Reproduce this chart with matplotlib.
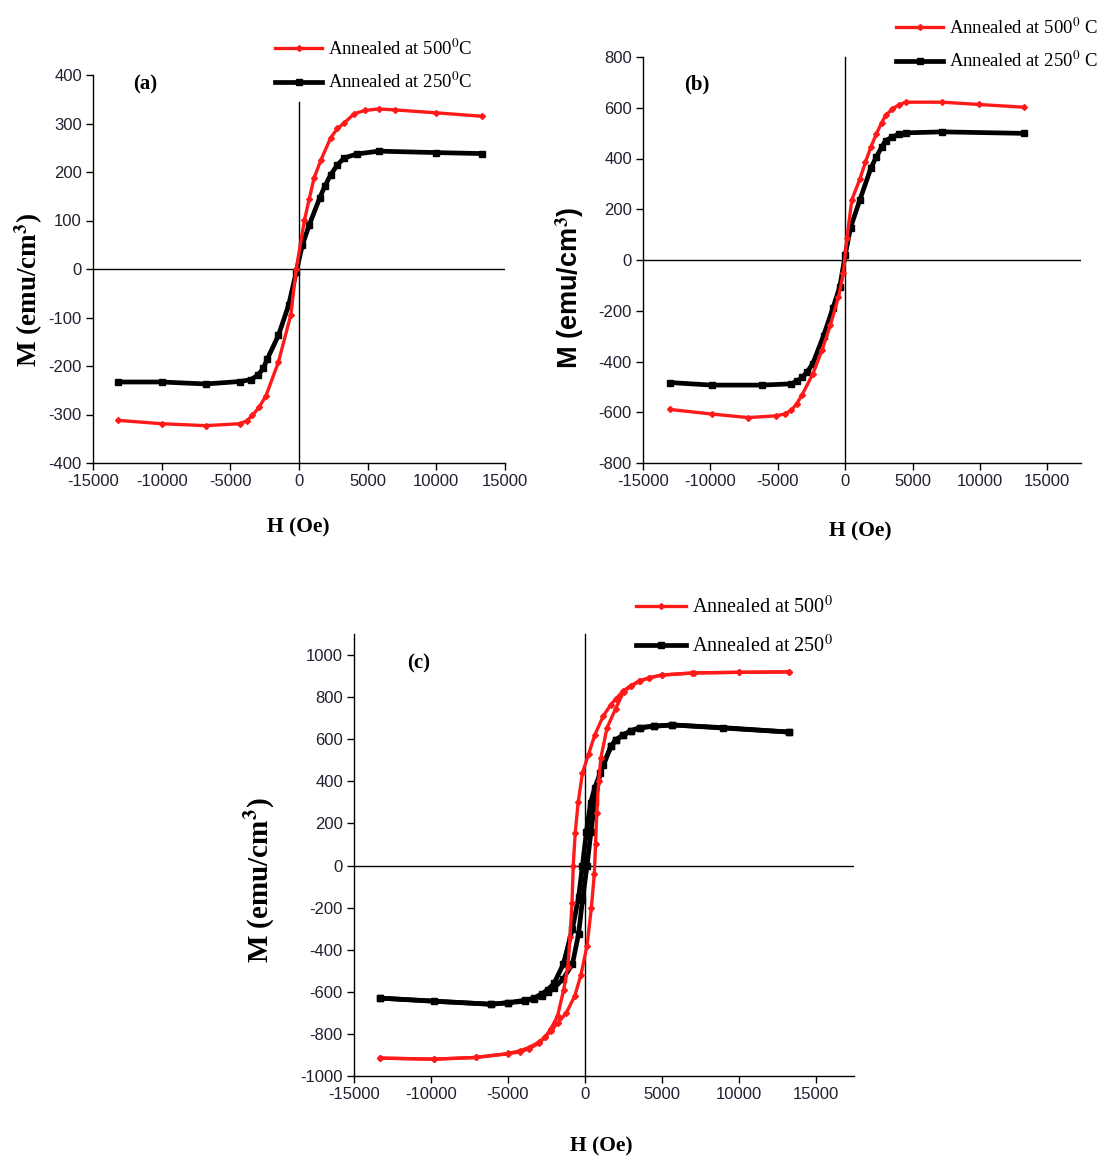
import matplotlib
matplotlib.use("Agg")
import matplotlib.pyplot as plt

plt.rcParams['axes.unicode_minus'] = False
plt.rcParams['mathtext.fontset'] = 'stix'

# ---- panel (a) ----
h_a_500 = [13300, 10000, 7000, 5800, 4800, 4000, 3300, 2800, 2300, 1600, 1100, 750, 400,
           -200, -600, -1500, -2400, -2900, -3400, -3800, -4300, -6800, -10000, -13200]
m_a_500 = [315, 322, 328, 330, 327, 320, 301, 290, 270, 225, 188, 145, 101,
           0, -95, -192, -261, -285, -302, -313, -319, -323, -319, -312]
h_a_250 = [13300, 10000, 5800, 4200, 3300, 2800, 2300, 1900, 1500, 750, 250, -200, -750,
           -1500, -2300, -2600, -3000, -3500, -4300, -6800, -10000, -13200]
m_a_250 = [238, 240, 243, 237, 229, 215, 194, 172, 146, 91, 50, -6, -74,
           -137, -185, -205, -219, -228, -232, -237, -233, -233]

# ---- panel (b) ----
h_b_500 = [13300, 9900, 7200, 4500, 4000, 3500, 3000, 2700, 2300, 1900, 1500, 1100, 500,
           130, -130, -500, -1100, -1700, -2400, -3200, -3600, -4000, -4500, -5100,
           -7200, -9900, -13000]
m_b_500 = [602, 613, 622, 622, 612, 595, 570, 540, 495, 444, 385, 320, 238,
           87, -51, -147, -257, -353, -449, -532, -567, -593, -607, -614,
           -621, -607, -589]
h_b_250 = [13300, 7200, 4500, 4000, 3500, 3000, 2700, 2300, 1900, 1100, 400, 0, -400,
           -900, -1600, -2400, -2800, -3200, -3600, -4000, -6200, -9900, -13000]
m_b_250 = [499, 505, 501, 496, 485, 470, 444, 405, 361, 238, 128, 18, -106,
           -188, -298, -408, -440, -463, -478, -488, -493, -493, -483]

# ---- panel (c) ----
h_c_500_down = [13300, 10000, 7000, 5000, 4200, 3500, 3000, 2500, 2000, 1700, 1200, 650,
                250, -150, -430, -620, -750, -830, -960, -1100, -1370, -1770, -2200,
                -2580, -3000, -3650, -4200, -5000, -7100, -9800, -13300]
m_c_500_down = [920, 918, 915, 905, 892, 875, 855, 830, 790, 765, 710, 620,
                530, 440, 300, 155, 0, -180, -340, -480, -590, -715, -775,
                -815, -845, -872, -885, -895, -912, -920, -915]
h_c_500_up = [-13300, -9800, -7100, -5000, -4200, -3650, -3000, -2580, -2200, -1770, -1200,
              -650, -250, 150, 430, 620, 700, 780, 900, 1050, 1450, 2000, 2520, 3000,
              3600, 4200, 5000, 7100, 10000, 13300]
m_c_500_up = [-915, -920, -912, -893, -880, -865, -840, -815, -785, -750, -700,
              -620, -520, -380, -200, -40, 100, 250, 400, 513, 655, 744, 825, 852,
              878, 892, 905, 915, 918, 920]
h_c_250_down = [13300, 9000, 5700, 4500, 3600, 3000, 2500, 2000, 1700, 1200, 650, 380,
                100, -150, -400, -800, -1400, -2000, -2400, -2800, -3300, -3900, -5000,
                -6100, -9800, -13300]
m_c_250_down = [634, 655, 668, 662, 655, 640, 620, 596, 566, 477, 370, 299,
                157, 0, -150, -300, -470, -560, -590, -610, -630, -640, -652,
                -659, -645, -630]
h_c_250_up = [-13300, -6100, -5000, -3900, -3300, -2800, -2400, -2000, -1400, -800, -400,
              -150, 150, 400, 650, 1000, 1700, 2000, 2500, 3000, 3600, 4500, 5700, 13300]
m_c_250_up = [-630, -659, -652, -645, -632, -618, -600, -582, -538, -467, -324,
              -164, 0, 160, 300, 440, 566, 596, 620, 640, 655, 662, 668, 634]

lab_500 = [r'Annealed at 500$^0$C', r'Annealed at 500$^0$ C', r'Annealed at 500$^0$']
lab_250 = [r'Annealed at 250$^0$C', r'Annealed at 250$^0$ C', r'Annealed at 250$^0$']

W, H = 1114, 1164
fig = plt.figure(figsize=(W / 100, H / 100), dpi=100)


def px_axes(left, right, top, bottom):
    return fig.add_axes([left / W, 1 - bottom / H, (right - left) / W, (bottom - top) / H])


def style_axes(ax, xlim, ylim, yticks, vtop):
    ax.set_xlim(*xlim)
    ax.set_ylim(*ylim)
    ax.set_xticks(range(-15000, 15001, 5000))
    ax.set_yticks(yticks)
    for s in ['top', 'right']:
        ax.spines[s].set_visible(False)
    for s in ['left', 'bottom']:
        ax.spines[s].set_linewidth(1.0)
    ax.tick_params(direction='out', length=5, width=1, labelsize=12,
                   labelcolor='#202030', pad=3)
    for t in ax.get_xticklabels() + ax.get_yticklabels():
        t.set_family('Liberation Sans')
    ax.axhline(0, color='black', lw=1, zorder=1)
    ax.plot([0, 0], [ylim[0], vtop], color='black', lw=1, zorder=1, clip_on=False)


def draw_red(ax, h, m, label):
    ax.plot(h, m, color='#ff1a1a', lw=2.4, marker='D', ms=3, mec='#ff1a1a',
            label=label, zorder=3)


def draw_black(ax, h, m, label):
    ax.plot(h, m, color='black', lw=3.4, marker='s', ms=4, label=label, zorder=2)


def add_legend(ax, x, y, fs, spacing):
    handles, labels = ax.get_legend_handles_labels()
    order = [1, 0]  # 500 C entry on top
    ax.legend([handles[i] for i in order], [labels[i] for i in order],
              loc='upper left', bbox_to_anchor=(x / W, 1 - y / H),
              bbox_transform=fig.transFigure, frameon=False, borderpad=0,
              handlelength=2.5, handletextpad=0.3, labelspacing=spacing,
              numpoints=1, prop={'family': 'Liberation Serif', 'size': fs})


# (a)
ax_a = px_axes(93, 505, 75, 463)
draw_black(ax_a, h_a_250, m_a_250, lab_250[0])
draw_red(ax_a, h_a_500, m_a_500, lab_500[0])
style_axes(ax_a, (-15000, 15000), (-400, 400), range(-400, 401, 100), 345)
add_legend(ax_a, 266, 29, 13.5, 0.7)

# (b)
ax_b = px_axes(643, 1081, 57, 463)
draw_black(ax_b, h_b_250, m_b_250, lab_250[1])
draw_red(ax_b, h_b_500, m_b_500, lab_500[1])
style_axes(ax_b, (-15000, 17500), (-800, 800), range(-800, 801, 200), 800)
add_legend(ax_b, 887, 8, 13.5, 0.7)

# (c)
ax_c = px_axes(354, 854, 634, 1076)
draw_black(ax_c, h_c_250_down, m_c_250_down, lab_250[2])
draw_black(ax_c, h_c_250_up, m_c_250_up, '_nolegend_')
draw_red(ax_c, h_c_500_down, m_c_500_down, lab_500[2])
draw_red(ax_c, h_c_500_up, m_c_500_up, '_nolegend_')
style_axes(ax_c, (-15000, 17500), (-1000, 1100), range(-1000, 1001, 200), 1100)
add_legend(ax_c, 626, 586, 14.5, 0.85)

# panel tags
for txt, x, y in [('(a)', 145, 84), ('(b)', 697, 84), ('(c)', 419, 663)]:
    fig.text(x / W, 1 - y / H, txt, ha='center', va='center', fontsize=15,
             fontweight='bold', family='Liberation Serif')

# axis titles
for x, y in [(298, 527), (860, 531), (601, 1146)]:
    fig.text(x / W, 1 - y / H, 'H (Oe)', ha='center', va='center', fontsize=15.5,
             fontweight='bold', family='Liberation Serif')
fig.text(29 / W, 1 - 290 / H, r'M (emu/cm$^\mathbf{3}$)', rotation=90, ha='center',
         va='center', fontsize=19.5, fontweight='bold', family='Liberation Serif')
fig.text(570 / W, 1 - 288 / H, r'M (emu/cm$^\mathbf{3}$)', rotation=90, ha='center',
         va='center', fontsize=19.5, fontweight='bold', family='Liberation Sans')
fig.text(260 / W, 1 - 880 / H, r'M (emu/cm$^\mathbf{3}$)', rotation=90, ha='center',
         va='center', fontsize=21, fontweight='bold', family='Liberation Serif')

fig.savefig('out.png', dpi=100, facecolor='white')
